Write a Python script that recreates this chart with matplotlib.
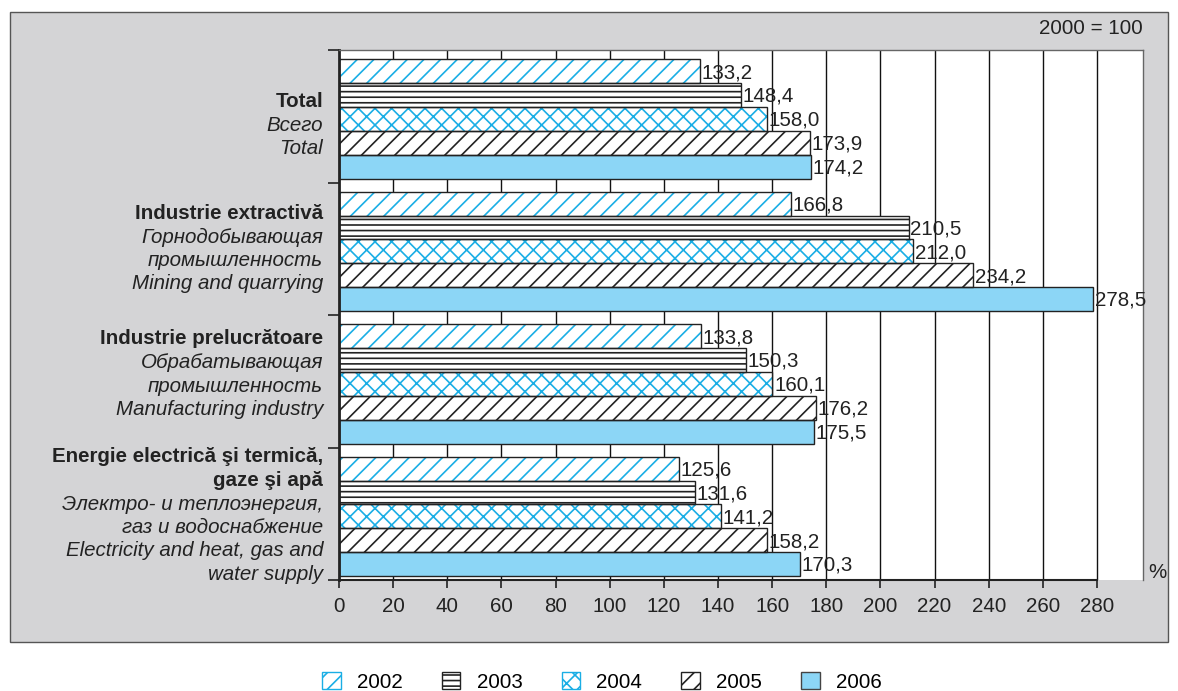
import matplotlib.pyplot as plt
from matplotlib.patches import Rectangle, Patch
import numpy as np

plt.rcParams['font.family'] = ['Liberation Sans', 'DejaVu Sans']
plt.rcParams['hatch.linewidth'] = 1.2

years = ["2002", "2003", "2004", "2005", "2006"]
values = [
    [133.2, 148.4, 158.0, 173.9, 174.2],   # Total
    [166.8, 210.5, 212.0, 234.2, 278.5],   # Industrie extractiva
    [133.8, 150.3, 160.1, 176.2, 175.5],   # Industrie prelucratoare
    [125.6, 131.6, 141.2, 158.2, 170.3],   # Energie
]
group_labels = [
    [("Total", "bold"), ("Всего", "italic"), ("Total", "italic")],
    [("Industrie extractivă", "bold"), ("Горнодобывающая", "italic"),
     ("промышленность", "italic"), ("Mining and quarrying", "italic")],
    [("Industrie prelucrătoare", "bold"), ("Обрабатывающая", "italic"),
     ("промышленность", "italic"), ("Manufacturing industry", "italic")],
    [("Energie electrică şi termică,", "bold"), ("gaze şi apă", "bold"),
     ("Электро- и теплоэнергия,", "italic"), ("газ и водоснабжение", "italic"),
     ("Electricity and heat, gas and", "italic"), ("water supply", "italic")],
]
xticks = list(range(0, 281, 20))

cyan = "#1AAEE5"
light = "#8CD6F6"
styles = [
    dict(face="white", hatch="//", hcol=cyan),
    dict(face="white", hatch="---", hcol="#222222"),
    dict(face="white", hatch="xx", hcol=cyan),
    dict(face="white", hatch="//", hcol="#222222"),
    dict(face=light, hatch=None, hcol=light),
]
FS = 14.8

fig = plt.figure(figsize=(11.78, 6.91), dpi=100)
W, H = 1178, 691

# gray panel
fig.patches.append(Rectangle((10 / W, 1 - 642 / H), 1158 / W, 630 / H,
                             transform=fig.transFigure, facecolor="#D4D4D6",
                             edgecolor="#555555", linewidth=1.0, zorder=0))

ax = fig.add_axes([339 / W, 1 - 580 / H, (1143 - 339) / W, 530 / H])
ax.set_zorder(2)
ax.set_facecolor("white")
ax.set_xlim(0, 297)
ax.set_ylim(4, 0)

for x in xticks[1:]:
    ax.axvline(x, color="#111111", lw=1.0, zorder=1)

bh = 0.18
off = 0.07
for g, row in enumerate(values):
    for k, v in enumerate(row):
        st = styles[k]
        y = g + off + k * bh
        ax.barh(y, v, height=bh, align="edge", color=st["face"],
                hatch=st["hatch"], edgecolor=st["hcol"], linewidth=0, zorder=2)
        ax.barh(y, v, height=bh, align="edge", fill=False,
                edgecolor="#222222", linewidth=1.0, zorder=3)
        ax.text(v + 0.6, y + bh / 2 + 0.01, f"{v:.1f}".replace(".", ","),
                fontsize=FS, color="#222222", va="center", ha="left", zorder=4)

# group labels
line_px = 23.5
shifts = [9, 0, -7, 2]
for g, lines in enumerate(group_labels):
    n = len(lines)
    cy = 50 + (g + 0.5) * 132.5 + shifts[g]
    for i, (txt, wt) in enumerate(lines):
        ypx = cy + (i - (n - 1) / 2) * line_px
        kw = dict(fontweight="bold") if wt == "bold" else dict(fontstyle="italic")
        fig.text(323 / W, 1 - ypx / H, txt, ha="right", va="center",
                 fontsize=FS, color="#222222", **kw)

ax.set_xticks(xticks)
ax.set_xticklabels([str(t) for t in xticks], fontsize=FS, color="#222222")
ax.tick_params(axis="x", direction="out", length=6, width=1.2, pad=6, colors="#222222")
ax.set_yticks([0, 1, 2, 3, 4])
ax.set_yticklabels([])
ax.tick_params(axis="y", direction="out", length=8, width=1.2, colors="#222222")

ax.spines["left"].set_linewidth(2.0)
ax.spines["left"].set_color("#222222")
ax.spines["bottom"].set_linewidth(1.5)
ax.spines["bottom"].set_color("#222222")
ax.spines["bottom"].set_bounds(0, 280)
for s in ["top", "right"]:
    ax.spines[s].set_color("#666666")
    ax.spines[s].set_linewidth(1.0)

fig.text(1143 / W, 1 - 29 / H, "2000 = 100", ha="right", va="center",
         fontsize=FS, color="#222222")
fig.text(1148 / W, 1 - 572 / H, "%", ha="left", va="center",
         fontsize=FS, color="#222222")

handles = []
for k, st in enumerate(styles):
    ec = st["hcol"] if st["hatch"] else "#444444"
    handles.append(Patch(facecolor=st["face"], edgecolor=ec, hatch=st["hatch"],
                         linewidth=1.0, label=years[k]))
fig.legend(handles=handles, loc="center", bbox_to_anchor=(602 / W, 1 - 682 / H),
           ncol=5, frameon=False, fontsize=FS, handlelength=0.9, handleheight=0.9,
           handletextpad=0.8, columnspacing=1.9)

fig.savefig("out.png", dpi=100)
